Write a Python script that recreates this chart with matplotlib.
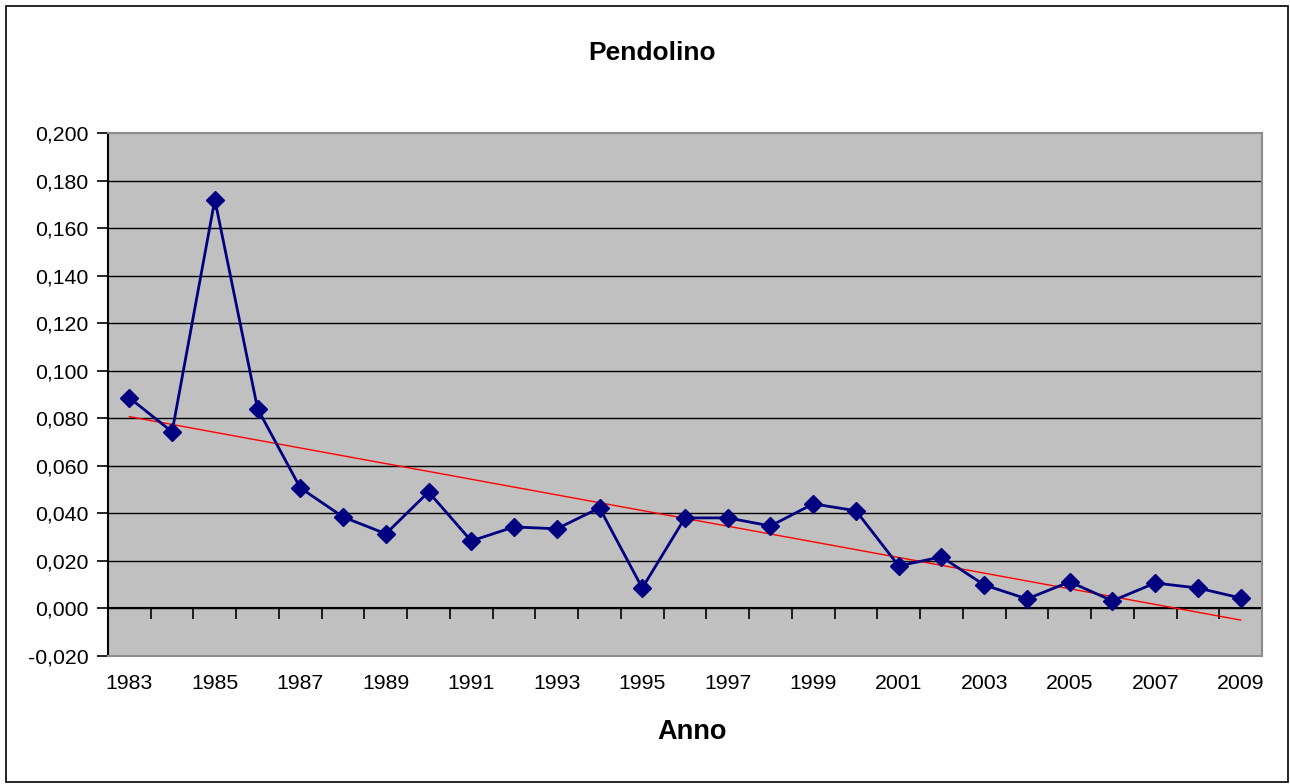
import numpy as np
import matplotlib
matplotlib.use("Agg")
import matplotlib.pyplot as plt
from matplotlib.patches import Rectangle

plt.rcParams['font.family'] = ['Liberation Sans', 'DejaVu Sans']

years = list(range(1983, 2010))
values = [0.0886, 0.0743, 0.1720, 0.0840, 0.0507, 0.0385, 0.0314, 0.0490, 0.0284,
          0.0343, 0.0335, 0.0423, 0.0086, 0.0381, 0.0381, 0.0347, 0.0440, 0.0411,
          0.0179, 0.0217, 0.0099, 0.0040, 0.0112, 0.0032, 0.0107, 0.0086, 0.0044]
y_ticks = [-0.02, 0.0, 0.02, 0.04, 0.06, 0.08, 0.10, 0.12, 0.14, 0.16, 0.18, 0.20]
title = "Pendolino"
xlabel = "Anno"

idx = np.arange(len(years))
ymin, ymax = -0.02, 0.20

fig = plt.figure(figsize=(12.9, 7.84), dpi=100)
ax = fig.add_axes([108/1290, 1-656/784, (1262-108)/1290, (656-133)/784])
ax.set_facecolor('#c0c0c0')
ax.set_xlim(-0.5, len(years) - 0.5)
ax.set_ylim(ymin, ymax)

# gridlines
for t in y_ticks:
    if t > ymin and t < ymax:
        ax.axhline(t, color='black', lw=1.0, zorder=1)

# series
ax.plot(idx, values, color='#000080', lw=2.0, marker='D', markersize=9,
        markerfacecolor='#000080', markeredgecolor='#000080', zorder=4)

# linear trend
coef = np.polyfit(idx, values, 1)
trend = np.polyval(coef, idx)
ax.plot(idx, trend, color='#ff0000', lw=1.0, zorder=3)

# y axis
ax.set_yticks(y_ticks)
ax.set_yticklabels([f"{v:.3f}".replace('.', ',') for v in y_ticks], fontsize=15.3)
ax.tick_params(axis='y', direction='out', length=8, width=1.2, pad=6, colors='black')

# x labels at bottom
ax.set_xticks(idx[::2])
ax.set_xticklabels([str(y) for y in years[::2]], fontsize=15.3)
ax.tick_params(axis='x', length=0, pad=13)

for s in ['top', 'right', 'bottom']:
    ax.spines[s].set_color('#8c8c8c')
    ax.spines[s].set_linewidth(1.5)
ax.spines['left'].set_color('black')
ax.spines['left'].set_linewidth(1.5)

# category axis crossing at zero with tick marks between categories
loc = (0 - ymin) / (ymax - ymin)
sec = ax.secondary_xaxis(loc)
sec.set_xticks(np.arange(0.5, len(years), 1.0))
sec.set_xticklabels([])
sec.tick_params(direction='out', length=8, width=1.2, colors='black')
sec.spines['bottom'].set_color('black')
sec.spines['bottom'].set_linewidth(1.5)

fig.text(652/1290, 1-53/784, title, fontsize=19, fontweight='bold',
         ha='center', va='center')
fig.text(692/1290, 1-732/784, xlabel, fontsize=19.5, fontweight='bold',
         ha='center', va='center')

fig.patches.append(Rectangle((6/1290, 1-782/784), (1288-6)/1290, (782-6)/784,
                             transform=fig.transFigure, fill=False,
                             edgecolor='black', lw=1.2))

fig.savefig('out.png', dpi=100)
